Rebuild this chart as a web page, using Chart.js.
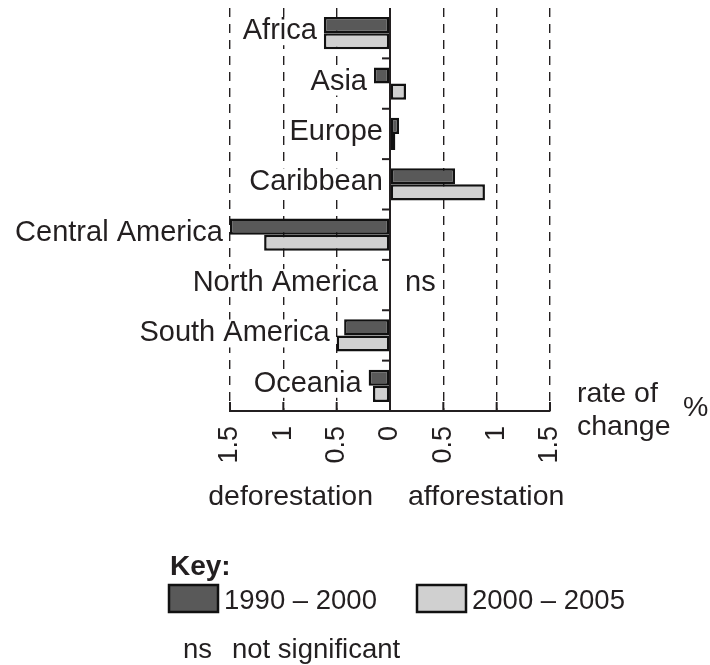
<!DOCTYPE html>
<html>
<head>
<meta charset="utf-8">
<script src="https://cdn.jsdelivr.net/npm/chart.js@4.4.0/dist/chart.umd.min.js"></script>
<style>
  html, body { margin: 0; padding: 0; background: #fff; }
  #wrap { width: 710px; height: 665px; }
</style>
</head>
<body>
<div id="wrap"><canvas id="chart" width="710" height="665"></canvas></div>
<script>
// forest cover change by region, % per year
const regions = ["Africa", "Asia", "Europe", "Caribbean", "Central America", "North America", "South America", "Oceania"];
const rate1990 = [-0.62, -0.15, 0.085, 0.61, -1.5, null, -0.43, -0.20];
const rate2000 = [-0.62, 0.15, 0.05, 0.89, -1.18, null, -0.50, -0.16];
const notSignificant = ["North America"];
const tickValues = [-1.5, -1, -0.5, 0, 0.5, 1, 1.5];
const seriesNames = ["1990 – 2000", "2000 – 2005"];

const ink = "#231f20";
const darkFill = "#595959";
const lightFill = "#d0d0d0";
const family = "'Liberation Sans', Arial, sans-serif";

const decor = {
    id: "decor",
    afterDatasetsDraw(chart) {
        const ctx = chart.ctx;
        const area = chart.chartArea;
        const xs = chart.scales.x;
        const ys = chart.scales.y;
        const x0 = xs.getPixelForValue(0);

        ctx.save();
        ctx.strokeStyle = ink;
        ctx.fillStyle = ink;

        // zero line
        ctx.lineWidth = 2;
        ctx.beginPath();
        ctx.moveTo(x0, area.top);
        ctx.lineTo(x0, area.bottom);
        ctx.stroke();

        // category boundary ticks on zero line
        for (let i = 0; i < regions.length - 1; i++) {
            const y = (ys.getPixelForValue(i) + ys.getPixelForValue(i + 1)) / 2;
            ctx.beginPath();
            ctx.moveTo(x0 - 8, y);
            ctx.lineTo(x0, y);
            ctx.stroke();
        }

        // inward ticks on the x axis
        tickValues.forEach(v => {
            const x = xs.getPixelForValue(v);
            ctx.beginPath();
            ctx.moveTo(x, area.bottom);
            ctx.lineTo(x, area.bottom - 9);
            ctx.stroke();
        });

        // region labels next to the bars
        ctx.font = "29px " + family;
        ctx.textBaseline = "middle";
        regions.forEach((name, i) => {
            const a = rate1990[i], b = rate2000[i];
            const none = a === null && b === null;
            const lo = Math.min(0, a ?? 0, b ?? 0);
            const right = xs.getPixelForValue(lo) - (none ? 12 : 7);
            const y = ys.getPixelForValue(i) - 2;
            const w = ctx.measureText(name).width;
            ctx.fillStyle = "#fff";
            ctx.fillRect(right - w - 2, y - 14, w + 4, 28);
            ctx.fillStyle = ink;
            ctx.textAlign = "right";
            ctx.fillText(name, right, y);
            if (notSignificant.includes(name)) {
                ctx.textAlign = "left";
                ctx.fillText("ns", x0 + 15, y);
            }
        });

        // axis captions
        ctx.textBaseline = "alphabetic";
        ctx.font = "28.5px " + family;
        ctx.textAlign = "left";
        ctx.fillText("rate of", area.right + 27, 402);
        ctx.fillText("change", area.right + 27, 435);
        ctx.fillText("%", area.right + 133, 416);
        ctx.textAlign = "right";
        ctx.fillText("deforestation", x0 - 17, 505);
        ctx.textAlign = "left";
        ctx.fillText("afforestation", x0 + 18, 505);

        // key
        ctx.font = "bold 28px " + family;
        ctx.fillText("Key:", 170, 575);
        ctx.font = "27.5px " + family;
        const fills = [darkFill, lightFill];
        const boxX = [169, 417];
        seriesNames.forEach((s, i) => {
            ctx.fillStyle = fills[i];
            ctx.fillRect(boxX[i], 585, 49, 27);
            ctx.lineWidth = 2.5;
            ctx.strokeStyle = "#111";
            ctx.strokeRect(boxX[i], 585, 49, 27);
            ctx.fillStyle = ink;
            ctx.fillText(s, boxX[i] + 55, 609);
        });
        ctx.fillText("ns", 183, 658);
        ctx.fillText("not significant", 232, 658);

        ctx.restore();
    }
};

new Chart(document.getElementById("chart"), {
    type: "bar",
    data: {
        labels: regions,
        datasets: [{
            label: seriesNames[0],
            data: rate1990,
            backgroundColor: darkFill,
            borderColor: "#111",
            borderWidth: 2.5,
            borderSkipped: false
        },
        {
            label: seriesNames[1],
            data: rate2000,
            backgroundColor: lightFill,
            borderColor: "#111",
            borderWidth: 2.5,
            borderSkipped: false
        }]
    },
    options: {
        indexAxis: "y",
        responsive: false,
        animation: false,
        categoryPercentage: 0.64,
        barPercentage: 1,
        layout: { padding: { left: 230, right: 160, top: 8, bottom: 0 } },
        plugins: {
            legend: { display: false },
            tooltip: { enabled: false }
        },
        scales: {
            x: {
                min: -1.5,
                max: 1.5,
                afterBuildTicks: s => { s.ticks = tickValues.map(v => ({ value: v })); },
                afterFit: s => { s.height = 254; },
                grid: {
                    color: c => (c.tick && c.tick.value === 0) ? "rgba(0,0,0,0)" : ink,
                    lineWidth: 1.4,
                    drawTicks: false
                },
                border: { display: true, color: ink, width: 2, dash: [9, 7] },
                ticks: {
                    autoSkip: false,
                    minRotation: 90,
                    maxRotation: 90,
                    padding: 15,
                    color: ink,
                    font: { family: family, size: 27 },
                    callback: v => String(Math.abs(v))
                }
            },
            y: { display: false }
        }
    },
    plugins: [decor]
});
</script>
</body>
</html>
